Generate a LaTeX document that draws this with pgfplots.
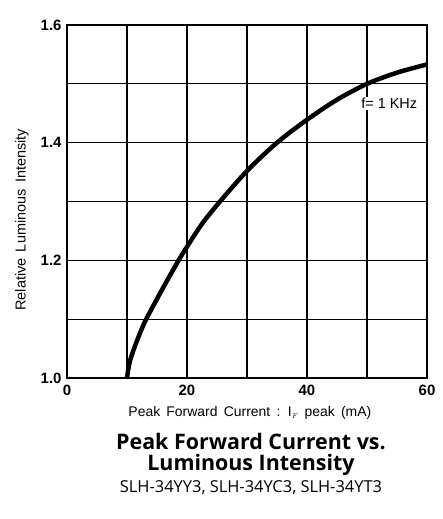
\documentclass[border=0pt]{standalone}
\usepackage{pgfplots}
\pgfplotsset{compat=1.18}
\usepackage{fontspec}
\setmainfont{Liberation Sans}
\newfontfamily\titlefont{Open Sans}
\begin{document}
\begin{tikzpicture}
\path[use as bounding box] (-67bp,-141bp) rectangle (376bp,378bp);
\begin{axis}[
  at={(0,0)}, anchor=south west,
  scale only axis, width=360bp, height=353bp,
  xmin=0, xmax=60, ymin=1, ymax=1.6,
  xtick={0,20,40,60}, minor xtick={10,30,50},
  ytick={1,1.2,1.4,1.6}, minor ytick={1.1,1.3,1.5},
  major tick length=0pt, minor tick length=0pt,
  grid=both,
  major grid style={black, line width=1.3pt},
  minor grid style={black, line width=1.3pt},
  axis line style={black, line width=1.8pt},
  /pgf/number format/assume math mode=true,
  yticklabel style={/pgf/number format/fixed, /pgf/number format/fixed zerofill, /pgf/number format/precision=1, xshift=-2bp},
  ticklabel style={font=\fontsize{15}{15}\selectfont\bfseries},
  xticklabel style={yshift=-4bp},
  xlabel={Peak\, Forward\, Current\, :\, I$_{\scriptscriptstyle F}$\, peak\, (mA)},
  xlabel style={font=\fontsize{14}{14}\selectfont, at={(axis description cs:0.508,0)}, anchor=center, yshift=-35bp},
  ylabel={Relative\, Luminous\, Intensity},
  ylabel style={font=\fontsize{14.5}{15}\selectfont, at={(axis description cs:0,0.448)}, anchor=center, yshift=45bp},
  clip=false,
]
\addplot[black, line width=4.5pt, smooth, tension=0.5] coordinates {
(10,1.0) (10.4,1.025) (11,1.045) (12,1.072) (13.2,1.1) (16,1.153) (18.6,1.2)
(20,1.223) (22.5,1.262) (25.5,1.3) (30,1.352) (35,1.4) (40,1.439) (45,1.473)
(50,1.5) (55,1.519) (60,1.533)};
\node[fill=white, inner sep=1.5bp, font=\fontsize{14.5}{14.5}\selectfont] at (axis cs:53.7,1.467) {f= 1 KHz};
\node[font=\titlefont\bfseries\fontsize{21.5}{22}\selectfont, anchor=center] at (axis description cs:0.511,0) [yshift=-64bp] {Peak Forward Current vs.};
\node[font=\titlefont\bfseries\fontsize{21.5}{22}\selectfont, anchor=center] at (axis description cs:0.511,0) [yshift=-87bp] {Luminous Intensity};
\node[font=\titlefont\fontsize{16.5}{17}\selectfont, anchor=center] at (axis description cs:0.511,0) [yshift=-110bp] {SLH-34YY3, SLH-34YC3, SLH-34YT3};
\end{axis}
\end{tikzpicture}
\end{document}
